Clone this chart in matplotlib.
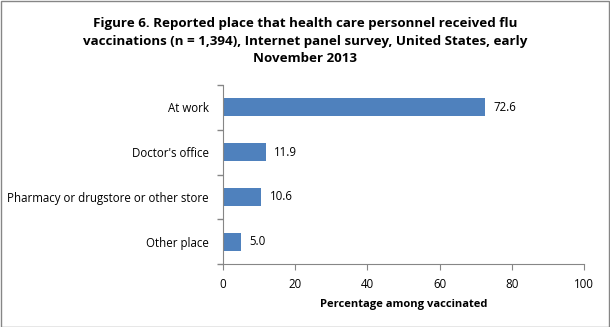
import matplotlib
matplotlib.use("Agg")
import matplotlib.pyplot as plt
from matplotlib.patches import Rectangle
from matplotlib.ticker import FixedLocator

categories = ["At work", "Doctor's office", "Pharmacy or drugstore or other store", "Other place"]
values = [72.6, 11.9, 10.6, 5.0]
xticks = [0, 20, 40, 60, 80, 100]

plt.rcParams['font.family'] = ['Open Sans', 'DejaVu Sans']

fig = plt.figure(figsize=(6.1, 3.27), dpi=100)
ax = fig.add_axes([223/610, 1-264/327, (584-223)/610, (264-85)/327])

ypos = list(range(len(categories)))
ax.barh(ypos, values, height=0.4, color="#4F81BD")
ax.set_ylim(len(categories)-0.5, -0.5)
ax.set_xlim(0, 100)
ax.set_xticks(xticks)
ax.set_yticks(ypos)
ax.set_yticklabels(categories, fontsize=8.3)
ax.tick_params(axis='y', length=0, pad=10)
ax.yaxis.set_minor_locator(FixedLocator([i + 0.5 for i in range(-1, len(categories))]))
ax.tick_params(axis='y', which='minor', length=4, color="#868686", width=1)
ax.tick_params(axis='x', length=4, color="#868686", labelsize=8.3, pad=6)
for s in ['top', 'right']:
    ax.spines[s].set_visible(False)
for s in ['left', 'bottom']:
    ax.spines[s].set_color("#868686")
for y, v in zip(ypos, values):
    ax.text(v + 2.3, y, f"{v:.1f}", va='center', ha='left', fontsize=8.3)
ax.set_xlabel("Percentage among vaccinated", fontsize=8, fontweight='bold', labelpad=6)

fig.text(0.5, 1-41/327, "Figure 6. Reported place that health care personnel received flu\n"
         "vaccinations (n = 1,394), Internet panel survey, United States, early\n"
         "November 2013", ha='center', va='center', fontsize=9.6, fontweight='bold',
         linespacing=1.5)

fig.patches.append(Rectangle((0.5/610, 0.5/327), 1-1.5/610, 1-1.5/327, transform=fig.transFigure,
                             fill=False, edgecolor="#868686", linewidth=1))
fig.savefig("out.png", dpi=100)
